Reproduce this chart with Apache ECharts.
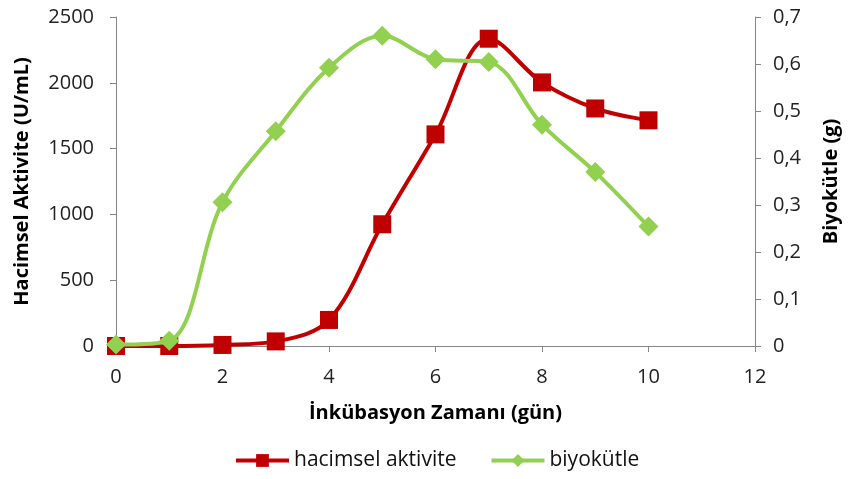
<!DOCTYPE html>
<html><head><meta charset="utf-8">
<script src="https://cdn.jsdelivr.net/npm/echarts@6/dist/echarts.min.js"></script>
<style>html,body{margin:0;padding:0;background:#fff}#c{width:850px;height:479px}</style>
</head><body><div id="c"></div>
<script>
const days = [0,1,2,3,4,5,6,7,8,9,10];
const aktivite = [0,0,8,35,198,925,1608,2335,2003,1805,1715];
const biyokutle = [0.003,0.011,0.306,0.457,0.592,0.660,0.610,0.604,0.471,0.370,0.254];
const xTitle = 'İnkübasyon Zamanı (gün)';
const yLeftTitle = 'Hacimsel Aktivite (U/mL)';
const yRightTitle = 'Biyokütle (g)';
const names = ['hacimsel aktivite','biyokütle'];

const font = '"Open Sans", sans-serif';
const axisCol = '#868686';
const titleStyle = {fontSize:20,fontWeight:'bold',color:'#000',fontFamily:font};
const chart = echarts.init(document.getElementById('c'));
chart.setOption({
  animation:false,
  textStyle:{fontFamily:font},
  grid:{left:116,right:95,top:17,bottom:133},
  legend:{bottom:3,left:229,itemWidth:53,itemHeight:16,itemGap:33,
    lineStyle:{width:4},
    textStyle:{fontSize:21,color:'#111',fontFamily:font},
    data:names},
  xAxis:{type:'value',min:0,max:12,interval:2,
    name:xTitle,nameLocation:'middle',nameGap:57,nameTextStyle:titleStyle,
    axisLine:{lineStyle:{color:axisCol}},axisTick:{show:true,length:6,lineStyle:{color:axisCol}},
    axisLabel:{fontSize:20,color:'#222',margin:21},splitLine:{show:false}},
  yAxis:[{type:'value',min:0,max:2500,interval:500,
    name:yLeftTitle,nameLocation:'middle',nameGap:84,nameTextStyle:titleStyle,
    axisLine:{show:true,lineStyle:{color:axisCol}},axisTick:{show:true,length:6,lineStyle:{color:axisCol}},
    axisLabel:{fontSize:20,color:'#222',margin:22,formatter:v=>String(v)},splitLine:{show:false}},
   {type:'value',min:0,max:0.7,interval:0.1,position:'right',
    name:yRightTitle,nameLocation:'middle',nameGap:66,nameRotate:90,nameTextStyle:titleStyle,
    axisLine:{show:true,lineStyle:{color:axisCol}},axisTick:{show:true,length:6,lineStyle:{color:axisCol}},
    axisLabel:{fontSize:20,color:'#222',margin:18,formatter:v=>v===0?'0':v.toFixed(1).replace('.',',')},
    splitLine:{show:false}}],
  series:[
   {name:names[0],type:'line',yAxisIndex:0,smooth:0.35,data:days.map((d,i)=>[d,aktivite[i]]),
    symbol:'rect',symbolSize:18,lineStyle:{width:4,color:'#C00000'},itemStyle:{color:'#C00000'},z:2},
   {name:names[1],type:'line',yAxisIndex:1,smooth:0.35,data:days.map((d,i)=>[d,biyokutle[i]]),
    symbol:'diamond',symbolSize:20,lineStyle:{width:4,color:'#92D050'},itemStyle:{color:'#92D050'},z:3}
  ]
});
</script></body></html>
